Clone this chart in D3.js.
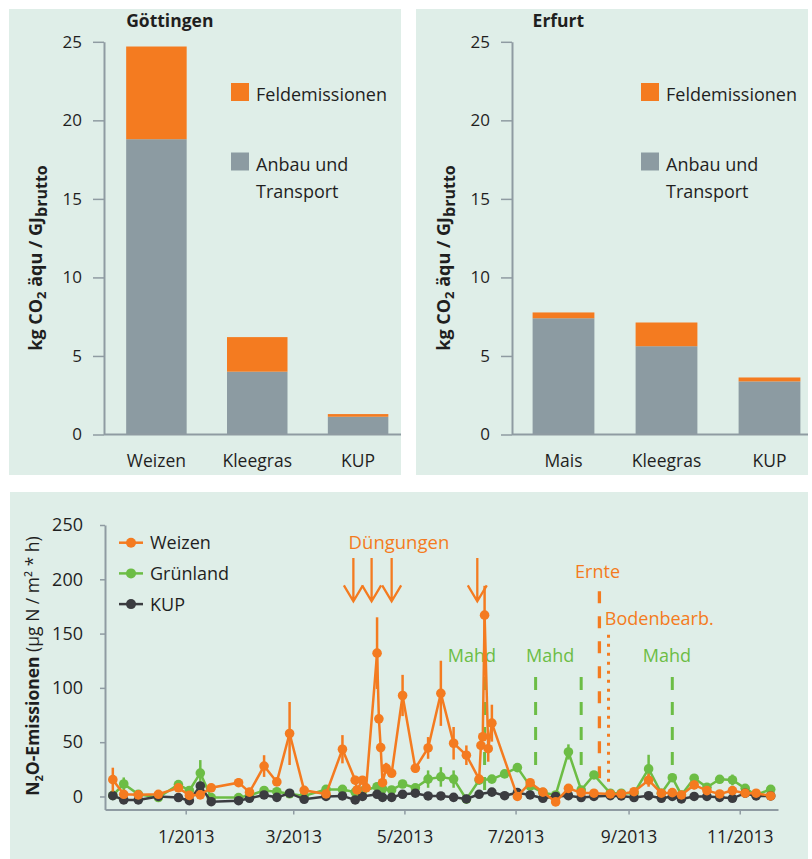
<!DOCTYPE html>
<html>
<head>
<meta charset="utf-8">
<script src="https://cdn.jsdelivr.net/npm/d3@7/dist/d3.min.js"></script>
<style>
  body { margin: 0; background: #fff; }
  svg text { font-family: 'Open Sans', sans-serif; fill: #1f1f1f; }
</style>
</head>
<body>
<div id="chart"></div>
<script>
// --- bar charts (kg CO2 aequ / GJ brutto) ---
const goettingenCrops = ['Weizen', 'Kleegras', 'KUP']
const goettingenAnbau = [18.8, 4.0, 1.13]
const goettingenFeld = [5.9, 2.2, 0.17]

const erfurtCrops = ['Mais', 'Kleegras', 'KUP']
const erfurtAnbau = [7.4, 5.62, 3.38]
const erfurtFeld = [0.37, 1.51, 0.25]

const barTicks = [0, 5, 10, 15, 20, 25]

// --- N2O emissions ---
const weizenDates = ['2012-11-22', '2012-11-28', '2012-12-06', '2012-12-17', '2012-12-28',
  '2013-01-03', '2013-01-09', '2013-01-15', '2013-01-30', '2013-02-05', '2013-02-13',
  '2013-02-20', '2013-02-27', '2013-03-07', '2013-03-19', '2013-03-28', '2013-04-04',
  '2013-04-05', '2013-04-08', '2013-04-10', '2013-04-16', '2013-04-17', '2013-04-18',
  '2013-04-19', '2013-04-21', '2013-04-24', '2013-04-30', '2013-05-07', '2013-05-14',
  '2013-05-21', '2013-05-28', '2013-06-04', '2013-06-11', '2013-06-12', '2013-06-13',
  '2013-06-14', '2013-06-16', '2013-06-18', '2013-07-02', '2013-07-09', '2013-07-16',
  '2013-07-23', '2013-07-30', '2013-08-06', '2013-08-13', '2013-08-22', '2013-08-28',
  '2013-09-04', '2013-09-12', '2013-09-19', '2013-09-25', '2013-09-30', '2013-10-07',
  '2013-10-14', '2013-10-21', '2013-10-28', '2013-11-04', '2013-11-10', '2013-11-18']
const weizenValues = [15.5, 2, 1.5, 2, 8, 1, 1.5, 8, 12.7, 4,
  28, 13.4, 58, 5.7, 2.3, 43.5,
  15, 6, 15, 8, 132, 71.5, 45, 12.7, 26, 21.4, 93,
  26, 44.7, 95, 49,
  38, 16, 47, 55, 167, 44, 67.5,
  0, 12.7, 4, -5, 7.5,
  3.5, 3, 2.3, 2.3,
  4.4, 15, 3, 3.5, 1.4,
  10.6, 5.4, 2.3, 5.4,
  3, 3, 0.5]
const weizenErr = [11, 0, 0, 0, 2, 0, 0, 0, 4, 0,
  10, 3, 29, 2, 0, 13,
  4, 0, 3, 2, 33, 0, 0, 0, 5, 3, 19,
  4, 10, 30, 15,
  9, 4, 0, 0, 27, 12, 17,
  0, 3, 0, 0, 4,
  0, 0, 0, 0,
  0, 6, 0, 0, 0,
  4, 0, 0, 2,
  0, 0, 0]

const sampleDates = ['2012-11-22', '2012-11-28', '2012-12-06', '2012-12-17', '2012-12-28',
  '2013-01-03', '2013-01-09', '2013-01-15', '2013-01-30', '2013-02-05', '2013-02-13',
  '2013-02-20', '2013-02-27', '2013-03-07', '2013-03-19', '2013-03-28', '2013-04-04',
  '2013-04-08', '2013-04-16', '2013-04-19', '2013-04-24', '2013-04-30', '2013-05-07',
  '2013-05-14', '2013-05-21', '2013-05-28', '2013-06-04', '2013-06-11', '2013-06-18',
  '2013-06-25', '2013-07-02', '2013-07-09', '2013-07-16', '2013-07-23', '2013-07-30',
  '2013-08-06', '2013-08-13', '2013-08-22', '2013-08-28', '2013-09-04', '2013-09-12',
  '2013-09-19', '2013-09-25', '2013-09-30', '2013-10-07', '2013-10-14', '2013-10-21',
  '2013-10-28', '2013-11-04', '2013-11-10', '2013-11-18']
const gruenlandValues = [1, 11.5, 2, -1, 11, 5.5, 21.5, -1, -1, 1,
  5.5, 4.4, 2.5, 0.5, 6.5, 6.5, 4, 5, 9, 7,
  6, 11.5, 8, 16, 18, 16, -2.5, 15, 16, 20.8,
  26.6, 9.5, 3.5, 1.4, 41, 6, 19.8, 3, 3, 3,
  25.4, 3, 17.3, 1.4, 16.8, 8.5, 15.8, 15.2, 7.5, 1.4,
  6.6]
const gruenlandErr = [0, 6, 0, 0, 2, 0, 12, 0, 0, 0,
  4, 0, 0, 0, 0, 3, 0, 0, 0, 0,
  0, 0, 0, 8, 9, 8, 0, 0, 0, 0,
  0, 0, 0, 0, 7, 0, 3, 0, 0, 0,
  13, 0, 0, 0, 3, 0, 0, 5, 0, 0,
  0]
const kupValues = [0.7, -3.2, -3.2, 0, -1, -3.9, 9.7, -4.8, -3.9, -1.7,
  1.4, -0.8, 3, -2.6, 0, 0.5, -3.2, 0, 2, -0.8,
  -0.8, 2, 3, 0.5, 0.5, -0.8, -2.3, 2, 4, 0.7,
  3.5, 1.4, -1.7, 0, 0.7, -1, 0, 0.7, 0.5, -1,
  0.7, -1.7, 0, -2.3, 0, 0, -0.8, -1.7, 3, 0.5,
  0.5]

const seriesNames = ['Weizen', 'Grünland', 'KUP']
const emissionTicks = [0, 50, 100, 150, 200, 250]
const monthTicks = ['2013-01-01', '2013-03-01', '2013-05-01', '2013-07-01', '2013-09-01', '2013-11-01']

// management events
const duengungDates = ['2013-04-03', '2013-04-13', '2013-04-24', '2013-06-10']
const mahdDates = ['2013-06-14', '2013-07-12', '2013-08-06', '2013-09-25']
const mahdEnds = [0, 24, 24, 24]
const mahdLabelDates = ['2013-06-07', '2013-07-20', '2013-09-22']
const ernteDate = '2013-08-16'
const bodenDate = '2013-08-21'

const orange = '#f47b20'
const green = '#6cbd45'
const dark = '#3b3c40'
const barGray = '#8c9ba2'
const panelBg = '#dfeee8'
const axisGray = '#8f9ba2'

const svg = d3.select('#chart')
  .append('svg')
  .attr('width', 812)
  .attr('height', 859)

function styleAxis(ax, size) {
  ax.attr('font-family', null).attr('font-size', null)
  ax.select('.domain').attr('stroke', axisGray).attr('stroke-width', 2)
  ax.selectAll('.tick line').attr('stroke', axisGray).attr('stroke-width', 1.5)
  ax.selectAll('.tick text').style('font-size', size + 'px').attr('fill', '#1f1f1f')
}

function drawBars(panelX, axisX, xRange, title, crops, anbau, feld, legendX) {
  const g = svg.append('g')
  g.append('rect')
    .attr('x', panelX).attr('y', 9)
    .attr('width', 392).attr('height', 466)
    .attr('fill', panelBg)

  const y = d3.scaleLinear().domain([0, 25]).range([434.5, 41.8])
  const x = d3.scaleBand().domain(crops).range(xRange).paddingInner(0.4).paddingOuter(0.2)

  const stack = crops.map((c, i) => ({ crop: c, anbau: anbau[i], feld: feld[i] }))

  g.selectAll('.anbau')
    .data(stack)
    .enter()
    .append('rect')
    .attr('x', d => x(d.crop))
    .attr('width', x.bandwidth())
    .attr('y', d => y(d.anbau))
    .attr('height', d => y(0) - y(d.anbau))
    .attr('fill', barGray)

  g.selectAll('.feld')
    .data(stack)
    .enter()
    .append('rect')
    .attr('x', d => x(d.crop))
    .attr('width', x.bandwidth())
    .attr('y', d => y(d.anbau + d.feld))
    .attr('height', d => y(d.anbau) - y(d.anbau + d.feld))
    .attr('fill', orange)

  const yAxis = d3.axisLeft(y).tickValues(barTicks).tickSize(11).tickSizeOuter(0).tickPadding(11)
  const ax = g.append('g').attr('transform', 'translate(' + axisX + ',0)').call(yAxis)
  styleAxis(ax, 17)

  g.append('line')
    .attr('x1', axisX).attr('x2', panelX + 392)
    .attr('y1', y(0)).attr('y2', y(0))
    .attr('stroke', axisGray).attr('stroke-width', 2)

  g.selectAll('.xlabel')
    .data(crops)
    .enter()
    .append('text')
    .attr('x', d => x(d) + x.bandwidth() / 2)
    .attr('y', 467)
    .attr('text-anchor', 'middle')
    .style('font-size', '17.5px')
    .text(d => d)

  g.append('text')
    .attr('x', x(crops[0]))
    .attr('y', 27)
    .style('font-size', '17.5px')
    .style('font-weight', 'bold')
    .text(title)

  // legend
  g.append('rect').attr('x', legendX).attr('y', 83).attr('width', 18).attr('height', 18).attr('fill', orange)
  g.append('rect').attr('x', legendX).attr('y', 152.5).attr('width', 18).attr('height', 18).attr('fill', barGray)
  g.append('text').attr('x', legendX + 25).attr('y', 100.5).style('font-size', '18px').text('Feldemissionen')
  g.append('text').attr('x', legendX + 25).attr('y', 170.5).style('font-size', '18px').text('Anbau und')
  g.append('text').attr('x', legendX + 25).attr('y', 198).style('font-size', '18px').text('Transport')

  // y label
  const lab = g.append('text')
    .attr('transform', 'translate(' + (axisX - 62) + ',258) rotate(-90)')
    .attr('text-anchor', 'middle')
    .style('font-size', '18px')
    .style('font-weight', 'bold')
  lab.append('tspan').text('kg CO')
  lab.append('tspan').attr('dy', 4).style('font-size', '13px').text('2')
  lab.append('tspan').attr('dy', -4).text(' äqu / GJ')
  lab.append('tspan').attr('dy', 5).style('font-size', '16px').text('brutto')
}

drawBars(9, 104, [106, 408.5], 'Göttingen', goettingenCrops, goettingenAnbau, goettingenFeld, 231)
drawBars(416, 512, [512, 821], 'Erfurt', erfurtCrops, erfurtAnbau, erfurtFeld, 641)

// --- emissions time series ---
const parseDate = d3.timeParse('%Y-%m-%d')

svg.append('rect')
  .attr('x', 10).attr('y', 492)
  .attr('width', 798).attr('height', 367)
  .attr('fill', panelBg)

const xTime = d3.scaleTime()
  .domain([new Date(2012, 10, 17, 17), new Date(2013, 10, 22)])
  .range([105, 778])
const yEm = d3.scaleLinear().domain([-12, 250]).range([809.5, 525])

const plot = svg.append('g')

const yAxisEm = d3.axisLeft(yEm).tickValues(emissionTicks).tickSize(5).tickSizeOuter(0).tickPadding(17)
const axY = plot.append('g').attr('transform', 'translate(105,0)').call(yAxisEm)
styleAxis(axY, 18)

const xAxisEm = d3.axisBottom(xTime)
  .tickValues(monthTicks.map(parseDate))
  .tickFormat(d3.timeFormat('%-m/%Y'))
  .tickSize(5)
  .tickSizeOuter(0)
  .tickPadding(16)
const axX = plot.append('g').attr('transform', 'translate(0,809.5)').call(xAxisEm)
styleAxis(axX, 17.5)

// y label
const emLab = plot.append('text')
  .attr('transform', 'translate(39,666) rotate(-90)')
  .attr('text-anchor', 'middle')
  .style('font-size', '17.5px')
emLab.append('tspan').style('font-weight', 'bold').text('N')
emLab.append('tspan').attr('dy', 4).style('font-weight', 'bold').style('font-size', '11px').text('2')
emLab.append('tspan').attr('dy', -4).style('font-weight', 'bold').text('O-Emissionen')
emLab.append('tspan').text(' (µg N / m² * h)')

// events
const ann = plot.append('g')

ann.append('text')
  .attr('x', xTime(parseDate('2013-04-28')))
  .attr('y', yEm(228))
  .attr('text-anchor', 'middle')
  .style('font-size', '18.5px')
  .style('fill', orange)
  .text('Düngungen')

ann.selectAll('.arrow')
  .data(duengungDates)
  .enter()
  .append('path')
  .attr('d', d => {
    const px = xTime(parseDate(d))
    const top = yEm(219.7)
    const tip = yEm(179.7)
    return 'M' + px + ',' + top + 'L' + px + ',' + tip +
      'M' + (px - 9.5) + ',' + (tip - 16) + 'L' + px + ',' + tip + 'L' + (px + 9.5) + ',' + (tip - 16)
  })
  .attr('fill', 'none')
  .attr('stroke', orange)
  .attr('stroke-width', 2.3)

ann.append('text')
  .attr('x', xTime(parseDate('2013-08-15')))
  .attr('y', yEm(201.6))
  .attr('text-anchor', 'middle')
  .style('font-size', '18px')
  .style('fill', orange)
  .text('Ernte')

ann.append('line')
  .attr('x1', xTime(parseDate(ernteDate))).attr('x2', xTime(parseDate(ernteDate)))
  .attr('y1', yEm(189)).attr('y2', yEm(6))
  .attr('stroke', orange).attr('stroke-width', 3.3)
  .attr('stroke-dasharray', '12,13')

ann.append('text')
  .attr('x', xTime(parseDate('2013-08-19')))
  .attr('y', yEm(157.6))
  .style('font-size', '18px')
  .style('fill', orange)
  .text('Bodenbearb.')

ann.append('line')
  .attr('x1', xTime(parseDate(bodenDate))).attr('x2', xTime(parseDate(bodenDate)))
  .attr('y1', yEm(149)).attr('y2', yEm(8))
  .attr('stroke', orange).attr('stroke-width', 3)
  .attr('stroke-dasharray', '3,6')

ann.selectAll('.mahdlabel')
  .data(mahdLabelDates)
  .enter()
  .append('text')
  .attr('x', d => xTime(parseDate(d)))
  .attr('y', yEm(123.4))
  .attr('text-anchor', 'middle')
  .style('font-size', '18px')
  .style('fill', green)
  .text('Mahd')

ann.selectAll('.mahd')
  .data(mahdDates)
  .enter()
  .append('line')
  .attr('x1', d => xTime(parseDate(d)))
  .attr('x2', d => xTime(parseDate(d)))
  .attr('y1', yEm(110))
  .attr('y2', (d, i) => yEm(mahdEnds[i]))
  .attr('stroke', green).attr('stroke-width', 3)
  .attr('stroke-dasharray', '13,12')

const line = d3.line()
  .x(d => xTime(d.date))
  .y(d => yEm(d.value))

function drawSeries(dates, values, errs, color) {
  const pts = dates.map((d, i) => ({ date: parseDate(d), value: values[i], err: errs ? errs[i] : 0 }))
  const g = plot.append('g')
  g.append('path')
    .datum(pts)
    .attr('d', line)
    .attr('fill', 'none')
    .attr('stroke', color)
    .attr('stroke-width', 2.5)
  g.selectAll('.err')
    .data(pts.filter(d => d.err > 0))
    .enter()
    .append('line')
    .attr('x1', d => xTime(d.date))
    .attr('x2', d => xTime(d.date))
    .attr('y1', d => yEm(d.value - d.err))
    .attr('y2', d => yEm(d.value + d.err))
    .attr('stroke', color)
    .attr('stroke-width', 2.5)
  g.selectAll('circle')
    .data(pts)
    .enter()
    .append('circle')
    .attr('cx', d => xTime(d.date))
    .attr('cy', d => yEm(d.value))
    .attr('r', 4.8)
    .attr('fill', color)
}

drawSeries(sampleDates, gruenlandValues, gruenlandErr, green)
drawSeries(sampleDates, kupValues, null, dark)
drawSeries(weizenDates, weizenValues, weizenErr, orange)

// legend
const legendColors = [orange, green, dark]
const leg = plot.selectAll('.leg')
  .data(seriesNames)
  .enter()
  .append('g')
  .attr('transform', (d, i) => 'translate(119,' + (542.7 + i * 30.7) + ')')
leg.append('line').attr('x1', 0).attr('x2', 24).attr('stroke', (d, i) => legendColors[i]).attr('stroke-width', 2.5)
leg.append('circle').attr('cx', 12).attr('r', 5).attr('fill', (d, i) => legendColors[i])
leg.append('text').attr('x', 31).attr('y', 6.5).style('font-size', '18px').text(d => d)
</script>
</body>
</html>
